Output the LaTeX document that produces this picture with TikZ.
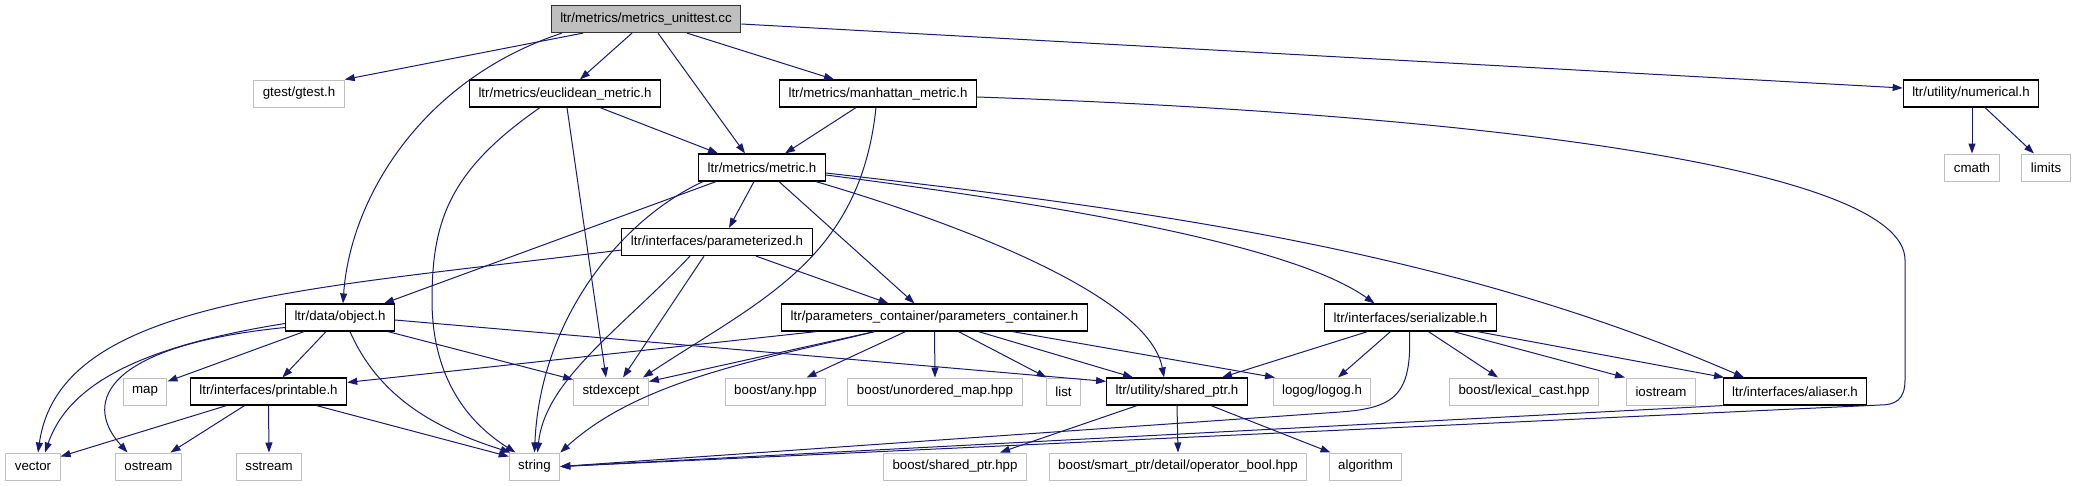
\documentclass[tikz,border=0pt]{standalone}
\usepackage{fontspec}
\setmainfont{Liberation Sans}
\usepackage{tikz}
\usetikzlibrary{arrows.meta}
\definecolor{EdgeBlue}{RGB}{25,25,112}
\definecolor{SysGray}{RGB}{191,191,191}

\tikzset{
  box/.style={rectangle, minimum height=27pt, inner xsep=9pt, inner ysep=2pt,
    font=\fontsize{13.3}{15}\selectfont, fill=white},
  proj/.style={box, draw=black, line width=1.2pt},
  sys/.style={box, draw=SysGray, line width=1pt},
  rootfile/.style={box, draw=black!80, fill=SysGray, line width=1.2pt},
  dep/.style={draw=EdgeBlue, line width=1pt, -{Triangle[length=10pt,width=7pt]}, fill=none}
}

\begin{document}
\begin{tikzpicture}[x=1pt, y=-1pt]
    \useasboundingbox (0,0) rectangle (2073,485);

    % Top file
    \node[rootfile] (root) at (646,19) {ltr/metrics/metrics\_unittest.cc};

    % Second row
    \node[sys] (gtest) at (299,93.5) {gtest/gtest.h};
    \node[proj] (eucl) at (565,93.5) {ltr/metrics/euclidean\_metric.h};
    \node[proj] (manh) at (878,93.5) {ltr/metrics/manhattan\_metric.h};
    \node[proj] (numer) at (1971,93.5) {ltr/utility/numerical.h};

    % Third row
    \node[proj] (metric) at (762,167.5) {ltr/metrics/metric.h};
    \node[sys] (cmath) at (1972,167.5) {cmath};
    \node[sys] (limits) at (2046,167.5) {limits};

    \node[proj] (param) at (717,242) {ltr/interfaces/parameterized.h};

    % Fifth row
    \node[proj] (object) at (340,317.5) {ltr/data/object.h};
    \node[proj] (pcont) at (934.5,317.5) {ltr/parameters\_container/parameters\_container.h};
    \node[proj] (serial) at (1410.5,317.5) {ltr/interfaces/serializable.h};

    % Sixth row
    \node[sys] (map) at (145,391.5) {map};
    \node[proj] (printable) at (268.5,391.5) {ltr/interfaces/printable.h};
    \node[sys] (stdexcept) at (611,391.5) {stdexcept};
    \node[sys] (anyhpp) at (775.5,391.5) {boost/any.hpp};
    \node[sys] (umap) at (935,391.5) {boost/unordered\_map.hpp};
    \node[sys] (list) at (1063.5,391.5) {list};
    \node[proj] (sharedptr) at (1177,391.5) {ltr/utility/shared\_ptr.h};
    \node[sys] (logog) at (1322,391.5) {logog/logog.h};
    \node[sys] (lexcast) at (1524,391.5) {boost/lexical\_cast.hpp};
    \node[sys] (iostream) at (1661,391.5) {iostream};
    \node[proj] (aliaser) at (1795,391.5) {ltr/interfaces/aliaser.h};

    % Bottom row
    \node[sys] (vector) at (33,466.5) {vector};
    \node[sys] (ostream) at (148.5,466.5) {ostream};
    \node[sys] (sstream) at (269,466.5) {sstream};
    \node[sys] (string) at (534.5,466.5) {string};
    \node[sys] (bsp) at (955,466.5) {boost/shared\_ptr.hpp};
    \node[sys] (opbool) at (1178,466.5) {boost/smart\_ptr/detail/operator\_bool.hpp};
    \node[sys] (algorithm) at (1365.5,466.5) {algorithm};

    % Includes of the test file
    \draw[dep] ([xshift=-63pt]root.south) -- (gtest.north east);
    \draw[dep] ([xshift=-84pt]root.south) .. controls (420,80) and (350,200) .. ([xshift=3pt]object.north);
    \draw[dep] ([xshift=-14pt]root.south) -- ([xshift=15pt]eucl.north);
    \draw[dep] ([xshift=12pt]root.south) -- ([xshift=-17pt]metric.north);
    \draw[dep] ([xshift=41pt]root.south) -- ([xshift=-44pt]manh.north);
    \draw[dep] ([yshift=-5pt]root.east) -- ([yshift=5.5pt]numer.west);

    % euclidean_metric.h
    \draw[dep] ([xshift=35pt]eucl.south) -- ([xshift=-44pt]metric.north);
    \draw[dep] ([xshift=-25pt]eucl.south) .. controls (450,170) and (432,220) .. (432,300)
      .. controls (432,390) and (480,430) .. ([xshift=-19pt]string.north);
    \draw[dep] ([xshift=2pt]eucl.south) -- ([xshift=-5pt]stdexcept.north);

    % manhattan_metric.h
    \draw[dep] ([xshift=-22pt]manh.south) -- ([xshift=23pt]metric.north);
    \draw[dep] ([xshift=-2pt]manh.south) .. controls (860,260) and (760,300) .. ([xshift=32pt]stdexcept.north);
    \draw[dep] ([yshift=-3.5pt]manh.east) .. controls (1500,115) and (1905,170) .. (1905,260)
      -- (1905,380) .. controls (1905,400) and (1895,405) .. (1880,405) -- (string.east);

    % numerical.h
    \draw[dep] ([xshift=1pt]numer.south) -- (cmath.north);
    \draw[dep] ([xshift=14pt]numer.south) -- ([xshift=-12pt]limits.north);

    % metric.h
    \draw[dep] ([xshift=-46pt]metric.south) -- ([xshift=44pt]object.north);
    \draw[dep] ([xshift=-8pt]metric.south) -- ([xshift=12pt]param.north);
    \draw[dep] ([xshift=17pt]metric.south) -- ([xshift=-20pt]pcont.north);
    \draw[dep] ([xshift=54pt]metric.south) .. controls (980,230) and (1150,300) .. ([xshift=-13pt]sharedptr.north);
    \draw[dep] ([yshift=-7.5pt]metric.east) .. controls (1100,210) and (1300,250) .. ([xshift=-36pt]serial.north);
    \draw[dep] ([yshift=-5.5pt]metric.east) .. controls (1150,210) and (1450,250) .. ([xshift=-51pt]aliaser.north);
    \draw[dep] ([xshift=-59pt]metric.south) .. controls (620,220) and (540,320) .. (string.north);

    % parameterized.h
    \draw[dep] ([yshift=-8pt]param.west) .. controls (300,290) and (60,300) .. ([xshift=5pt]vector.north);
    \draw[dep] ([xshift=39pt]param.south) -- ([xshift=-46pt]pcont.north);
    \draw[dep] ([xshift=-13pt]param.south) -- ([xshift=12pt]stdexcept.north);
    \draw[dep] ([xshift=-27pt]param.south) .. controls (620,330) and (545,380) .. ([xshift=3pt]string.north);

    % object.h
    \draw[dep] ([yshift=-2.5pt]object.east) -- ([yshift=-4pt]sharedptr.north west);
    \draw[dep] ([xshift=48pt]object.south) -- ([yshift=-2pt]stdexcept.north west);
    \draw[dep] ([xshift=-36pt]object.south) -- ([yshift=-4pt]map.north east);
    \draw[dep] ([xshift=-14pt]object.south) -- ([xshift=14pt]printable.north);
    \draw[dep] ([xshift=10pt]object.south) .. controls (380,400) and (440,430) .. ([xshift=-24pt]string.north);
    \draw[dep] ([yshift=-6pt]object.west) .. controls (150,345) and (70,380) .. ([xshift=12pt]vector.north);
    \draw[dep] ([yshift=-10pt]object.west) .. controls (110,345) and (80,400) .. ([xshift=-21pt]ostream.north);

    % printable.h
    \draw[dep] ([xshift=-42pt]printable.south) -- ([yshift=-4pt]vector.north east);
    \draw[dep] ([xshift=-24pt]printable.south) -- ([xshift=22pt]ostream.north);
    \draw[dep] (printable.south) -- (sstream.north);
    \draw[dep] ([xshift=48pt]printable.south) -- ([yshift=-4pt]string.north west);

    % parameters_container.h
    \draw[dep] ([xshift=-118pt]pcont.south) -- ([yshift=-5pt]printable.north east);
    \draw[dep] ([xshift=-60pt]pcont.south) -- ([yshift=-4pt]stdexcept.north east);
    \draw[dep] ([xshift=-60pt]pcont.south) .. controls (760,360) and (640,380) .. (string.north east);
    \draw[dep] ([xshift=-29pt]pcont.south) -- ([xshift=31pt]anyhpp.north);
    \draw[dep] (pcont.south) -- (umap.north);
    \draw[dep] ([xshift=24pt]pcont.south) -- ([xshift=-17pt]list.north);
    \draw[dep] ([xshift=44pt]pcont.south) -- ([xshift=-44pt]sharedptr.north);
    \draw[dep] ([xshift=78pt]pcont.south) -- ([xshift=-47pt]logog.north);

    % serializable.h
    \draw[dep] ([xshift=-43pt]serial.south) -- ([xshift=45pt]sharedptr.north);
    \draw[dep] ([xshift=-20pt]serial.south) -- ([xshift=16pt]logog.north);
    \draw[dep] ([xshift=-1pt]serial.south) .. controls (1412,395) and (1395,408) .. (1340,412) -- (string.east);
    \draw[dep] ([xshift=18pt]serial.south) -- ([xshift=-26pt]lexcast.north);
    \draw[dep] ([xshift=43pt]serial.south) -- ([xshift=-36pt]iostream.north);
    \draw[dep] ([xshift=67pt]serial.south) -- ([xshift=-71pt]aliaser.north);

    % aliaser.h
    \draw[dep] (aliaser.south west) -- (string.east);

    % shared_ptr.h
    \draw[dep] ([xshift=-40pt]sharedptr.south) -- ([xshift=45pt]bsp.north);
    \draw[dep] (sharedptr.south) -- (opbool.north);
    \draw[dep] ([xshift=34pt]sharedptr.south) -- ([xshift=-35pt]algorithm.north);
  \end{tikzpicture}
\end{document}
